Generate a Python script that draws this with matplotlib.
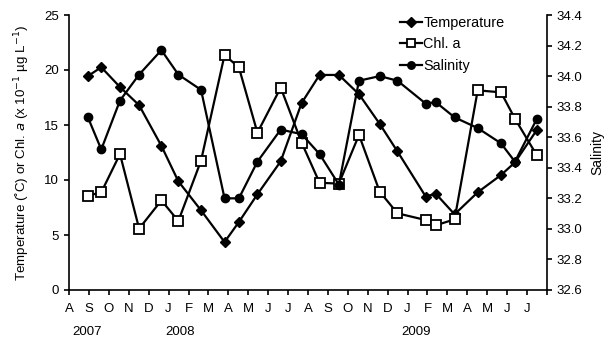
import matplotlib
matplotlib.use('Agg')
import matplotlib.pyplot as plt

plt.rcParams['font.family'] = ['Liberation Sans', 'DejaVu Sans']

# sampling dates as month index (0 = Aug 2007)
months = [0.95, 1.62, 2.56, 3.52, 4.64, 5.49, 6.63, 7.81, 8.53, 9.46, 10.63, 11.68,
          12.58, 13.55, 14.56, 15.6, 16.49, 17.91, 18.41, 19.36, 20.52, 21.69, 22.39, 23.49]

temperature = [19.45, 20.25, 18.45, 16.8, 13.1, 9.88, 7.24, 4.36, 6.18, 8.7, 11.7, 17.0,
               19.55, 19.55, 17.8, 15.1, 12.6, 8.5, 8.76, 6.88, 8.88, 10.45, 11.6, 14.55]

chl_a = [8.57, 8.88, 12.36, 5.58, 8.15, 6.27, 11.76, 21.36, 20.24, 14.3, 18.4, 13.4,
         9.75, 9.67, 14.1, 8.94, 6.97, 6.36, 5.88, 6.42, 18.15, 17.97, 15.58, 12.24]

salinity = [33.73, 33.52, 33.84, 34.01, 34.17, 34.01, 33.91, 33.2, 33.2, 33.44, 33.65, 33.62,
            33.49, 33.29, 33.97, 34.0, 33.97, 33.82, 33.83, 33.73, 33.66, 33.56, 33.44, 33.72]

month_labels = ['A', 'S', 'O', 'N', 'D', 'J', 'F', 'M', 'A', 'M', 'J', 'J',
                'A', 'S', 'O', 'N', 'D', 'J', 'F', 'M', 'A', 'M', 'J', 'J']
years = ['2007', '2008', '2009']
year_pos = [0.9, 5.6, 17.45]

fig = plt.figure(figsize=(6.12, 3.39), dpi=100)
ax = fig.add_axes([69 / 612, 1 - 290 / 339, (547 - 69) / 612, (290 - 15) / 339])
ax2 = ax.twinx()

lw = 1.6
l1, = ax.plot(months, temperature, '-', color='black', lw=lw, marker='D', ms=5.5,
              mfc='black', mec='black', label='Temperature')
l2, = ax.plot(months, chl_a, '-', color='black', lw=lw, marker='s', ms=7,
              mfc='white', mec='black', mew=1.3, label='Chl. a')
l3, = ax2.plot(months, salinity, '-', color='black', lw=lw, marker='o', ms=6,
               mfc='black', mec='black', label='Salinity')

ax.set_xlim(0, 24)
ax.set_ylim(0, 25)
ax.set_yticks(range(0, 26, 5))
ax2.set_ylim(32.6, 34.4)
ax2.set_yticks([32.6 + 0.2 * i for i in range(10)])
ax2.set_yticklabels(['%.1f' % (32.6 + 0.2 * i) for i in range(10)])

ax.set_xticks(range(0, 25))
ax.set_xticklabels(month_labels + [''])

for a in (ax, ax2):
    a.spines['top'].set_visible(False)
    for s in a.spines.values():
        s.set_linewidth(1.2)
    a.tick_params(direction='out', length=3.5, width=1.2, labelsize=9.5, colors='black')
ax.tick_params(axis='x', pad=6)
ax.spines['right'].set_visible(False)
ax2.spines['left'].set_visible(False)
ax2.spines['bottom'].set_visible(False)

ax.set_ylabel('Temperature (˚C) or Chl. $\\it{a}$ (x 10$^{-1}$ µg L$^{-1}$)', fontsize=9.6, labelpad=9)
ax2.set_ylabel('Salinity', fontsize=10, labelpad=6)

for yr, xp in zip(years, year_pos):
    ax.text(xp, -0.152, yr, transform=ax.get_xaxis_transform(), ha='center', va='center', fontsize=9.5)

fig.legend([l1, l2, l3], ['Temperature', 'Chl. a', 'Salinity'], loc='upper left',
           bbox_to_anchor=(393 / 612, 1 - 9 / 339), bbox_transform=fig.transFigure,
           frameon=False, fontsize=10.4, handlelength=1.5, handletextpad=0.1,
           labelspacing=0.5, borderpad=0, markerscale=0.9)

fig.savefig('out.png', dpi=100)
